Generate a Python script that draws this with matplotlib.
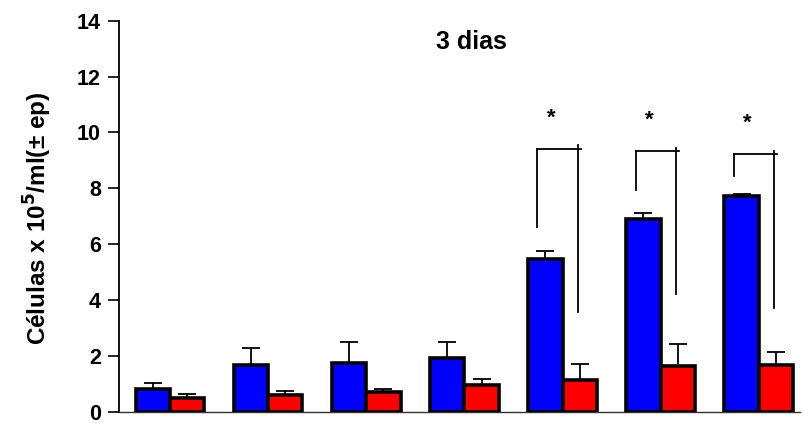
import numpy as np
import matplotlib
matplotlib.use('Agg')
import matplotlib.pyplot as plt

plt.rcParams['font.family'] = ['Liberation Sans', 'DejaVu Sans']

# cell counts (x 10^5/ml) per group, mean and standard error
groups = np.arange(7)
blue_mean = [0.82, 1.67, 1.74, 1.92, 5.45, 6.90, 7.72]
blue_err = [0.22, 0.62, 0.74, 0.58, 0.32, 0.20, 0.08]
red_mean = [0.50, 0.60, 0.70, 0.94, 1.14, 1.64, 1.68]
red_err = [0.12, 0.14, 0.10, 0.22, 0.58, 0.78, 0.44]

# significance brackets: group, bar height, left drop, right drop
sig_groups = [4, 5, 6]
sig_top = [9.42, 9.32, 9.22]
sig_left_low = [6.60, 7.95, 8.45]
sig_right_low = [3.57, 4.20, 3.70]

width = 0.35

fig = plt.figure(figsize=(8.04, 4.25), dpi=100)
ax = fig.add_axes([0.148, 0.0313, 0.847, 0.92])

ax.bar(groups - width / 2, blue_mean, width, color='#0000ff', edgecolor='black',
       linewidth=2.6, zorder=3)
ax.bar(groups + width / 2, red_mean, width, color='#ff0000', edgecolor='black',
       linewidth=2.6, zorder=3)
ax.errorbar(groups - width / 2, blue_mean, yerr=[np.zeros(7), blue_err], fmt='none',
            ecolor='black', elinewidth=1.3, capsize=6.5, capthick=1.3, zorder=2)
ax.errorbar(groups + width / 2, red_mean, yerr=[np.zeros(7), red_err], fmt='none',
            ecolor='black', elinewidth=1.3, capsize=6.5, capthick=1.3, zorder=2)

for g, top, lo_l, lo_r in zip(sig_groups, sig_top, sig_left_low, sig_right_low):
    xl = g - width / 2 - 0.08
    xr = g + width / 2 - 0.02
    ax.plot([xl, xl], [lo_l, top], color='black', lw=1.3)
    ax.plot([xr, xr], [lo_r, top + 0.12], color='black', lw=1.3)
    ax.plot([xl, xr + 0.03], [top, top], color='black', lw=1.3)
    ax.text(g - width / 2 + 0.06, top + 1.1, '*', ha='center', va='center',
            fontsize=16, fontweight='bold')

ax.set_xlim(-0.52, 6.42)
ax.set_ylim(0, 14)
ax.set_yticks(range(0, 15, 2))
ax.set_xticks([])
ax.tick_params(axis='y', direction='out', length=8, width=1.2, labelsize=15.5, pad=5)
for lab in ax.get_yticklabels():
    lab.set_fontweight('bold')

ax.spines['top'].set_visible(False)
ax.spines['right'].set_visible(False)
ax.spines['left'].set_linewidth(1.3)
ax.spines['bottom'].set_linewidth(1.0)
ax.spines['bottom'].set_color('#333333')

fig.text(38 / 804, 0.487, 'Células x 10$^{\\mathbf{5}}$/ml(± ep)', rotation=90,
         ha='center', va='center', fontsize=17.5, fontweight='bold')
ax.text(3.07, 13.25, '3 dias', ha='center', va='center', fontsize=18,
        fontweight='bold')

fig.savefig('out.png', dpi=100)
